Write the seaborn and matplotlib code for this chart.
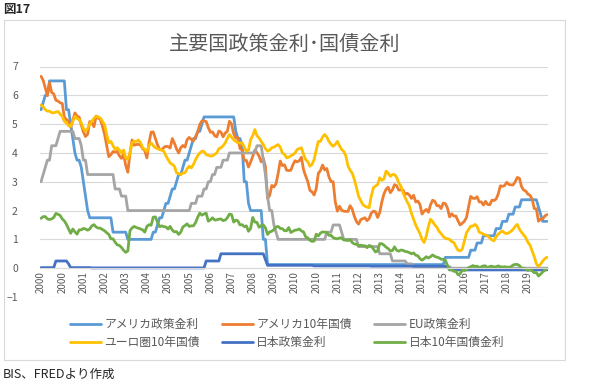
import numpy as np
import pandas as pd
import matplotlib
matplotlib.use('Agg')
import matplotlib.pyplot as plt
import seaborn as sns
from matplotlib.lines import Line2D
from matplotlib.patches import Rectangle

series_names = ['アメリカ政策金利', 'アメリカ10年国債', 'EU政策金利',
                'ユーロ圏10年国債', '日本政策金利', '日本10年国債金利']
series_colors = ['#5B9BD5', '#ED7D31', '#A5A5A5', '#FFC000', '#4472C4', '#70AD47']

# monthly, Jan 2000 - Dec 2019
months = pd.date_range('2000-01-01', periods=240, freq='MS')
tick_labels = ['2000', '2000', '2001', '2002', '2003', '2004', '2005', '2005',
               '2006', '2007', '2008', '2009', '2010', '2010', '2011', '2012',
               '2013', '2014', '2015', '2015', '2016', '2017', '2018', '2019']

us_policy = [
    5.50, 5.75, 6.00, 6.00, 6.50, 6.50, 6.50, 6.50, 6.50, 6.50, 6.50, 6.50,
    5.50, 5.50, 5.00, 4.50, 4.00, 3.75, 3.75, 3.50, 3.00, 2.50, 2.00, 1.75,
    1.75, 1.75, 1.75, 1.75, 1.75, 1.75, 1.75, 1.75, 1.75, 1.75, 1.25, 1.25,
    1.25, 1.25, 1.25, 1.25, 1.25, 1.00, 1.00, 1.00, 1.00, 1.00, 1.00, 1.00,
    1.00, 1.00, 1.00, 1.00, 1.00, 1.25, 1.25, 1.50, 1.75, 1.75, 2.00, 2.25,
    2.25, 2.50, 2.75, 2.75, 3.00, 3.25, 3.25, 3.50, 3.75, 3.75, 4.00, 4.25,
    4.50, 4.50, 4.75, 4.75, 5.00, 5.25, 5.25, 5.25, 5.25, 5.25, 5.25, 5.25,
    5.25, 5.25, 5.25, 5.25, 5.25, 5.25, 5.25, 5.25, 4.75, 4.50, 4.50, 4.25,
    3.00, 3.00, 2.25, 2.00, 2.00, 2.00, 2.00, 2.00, 2.00, 1.00, 1.00, 0.125,
    0.125, 0.125, 0.125, 0.125, 0.125, 0.125, 0.125, 0.125, 0.125, 0.125, 0.125, 0.125,
    0.125, 0.125, 0.125, 0.125, 0.125, 0.125, 0.125, 0.125, 0.125, 0.125, 0.125, 0.125,
    0.125, 0.125, 0.125, 0.125, 0.125, 0.125, 0.125, 0.125, 0.125, 0.125, 0.125, 0.125,
    0.125, 0.125, 0.125, 0.125, 0.125, 0.125, 0.125, 0.125, 0.125, 0.125, 0.125, 0.125,
    0.125, 0.125, 0.125, 0.125, 0.125, 0.125, 0.125, 0.125, 0.125, 0.125, 0.125, 0.125,
    0.125, 0.125, 0.125, 0.125, 0.125, 0.125, 0.125, 0.125, 0.125, 0.125, 0.125, 0.125,
    0.125, 0.125, 0.125, 0.125, 0.125, 0.125, 0.125, 0.125, 0.125, 0.125, 0.125, 0.375,
    0.375, 0.375, 0.375, 0.375, 0.375, 0.375, 0.375, 0.375, 0.375, 0.375, 0.375, 0.625,
    0.625, 0.625, 0.875, 0.875, 0.875, 1.125, 1.125, 1.125, 1.125, 1.125, 1.125, 1.375,
    1.375, 1.375, 1.625, 1.625, 1.625, 1.875, 1.875, 1.875, 2.125, 2.125, 2.125, 2.375,
    2.375, 2.375, 2.375, 2.375, 2.375, 2.375, 2.375, 2.125, 1.875, 1.625, 1.625, 1.625,
]

us_10y = [
    6.66, 6.52, 6.26, 5.99, 6.44, 6.10, 6.05, 5.83, 5.80, 5.74, 5.72, 5.24,
    5.16, 5.10, 4.89, 5.14, 5.39, 5.28, 5.24, 4.97, 4.73, 4.57, 4.65, 5.09,
    5.04, 4.91, 5.28, 5.21, 5.16, 4.93, 4.65, 4.26, 3.87, 3.94, 4.05, 4.03,
    4.05, 3.90, 3.81, 3.96, 3.57, 3.33, 3.98, 4.45, 4.27, 4.29, 4.30, 4.27,
    4.15, 4.08, 3.83, 4.35, 4.72, 4.73, 4.50, 4.28, 4.13, 4.10, 4.19, 4.23,
    4.22, 4.17, 4.50, 4.34, 4.14, 4.00, 4.18, 4.26, 4.20, 4.46, 4.54, 4.47,
    4.42, 4.57, 4.72, 4.99, 5.11, 5.11, 5.09, 4.88, 4.72, 4.73, 4.60, 4.56,
    4.76, 4.72, 4.56, 4.69, 4.75, 5.10, 5.00, 4.67, 4.52, 4.53, 4.15, 4.10,
    3.74, 3.74, 3.51, 3.68, 3.88, 4.10, 4.01, 3.89, 3.69, 3.81, 3.53, 2.42,
    2.52, 2.87, 2.82, 2.93, 3.29, 3.72, 3.56, 3.59, 3.40, 3.39, 3.40, 3.59,
    3.73, 3.69, 3.73, 3.85, 3.42, 3.20, 3.01, 2.70, 2.65, 2.54, 2.76, 3.29,
    3.39, 3.58, 3.41, 3.46, 3.17, 3.00, 3.00, 2.30, 1.98, 2.15, 2.01, 1.98,
    1.97, 1.97, 2.17, 2.05, 1.80, 1.62, 1.53, 1.68, 1.72, 1.75, 1.65, 1.72,
    1.91, 1.98, 1.96, 1.76, 1.93, 2.30, 2.58, 2.74, 2.81, 2.62, 2.72, 2.90,
    2.86, 2.71, 2.72, 2.71, 2.56, 2.60, 2.54, 2.42, 2.53, 2.30, 2.33, 2.21,
    1.88, 1.98, 2.04, 1.94, 2.20, 2.36, 2.32, 2.17, 2.17, 2.07, 2.26, 2.24,
    2.09, 1.78, 1.89, 1.81, 1.81, 1.64, 1.50, 1.56, 1.63, 1.76, 2.14, 2.49,
    2.43, 2.42, 2.48, 2.30, 2.30, 2.19, 2.32, 2.21, 2.20, 2.36, 2.35, 2.40,
    2.58, 2.86, 2.84, 2.87, 2.98, 2.91, 2.89, 2.89, 3.00, 3.15, 3.12, 2.83,
    2.71, 2.68, 2.57, 2.53, 2.40, 2.07, 2.06, 1.63, 1.70, 1.71, 1.81, 1.86,
]

eu_policy = [
    3.00, 3.25, 3.50, 3.75, 3.75, 4.25, 4.25, 4.25, 4.50, 4.75, 4.75, 4.75,
    4.75, 4.75, 4.75, 4.75, 4.50, 4.50, 4.50, 4.25, 3.75, 3.75, 3.25, 3.25,
    3.25, 3.25, 3.25, 3.25, 3.25, 3.25, 3.25, 3.25, 3.25, 3.25, 3.25, 2.75,
    2.75, 2.75, 2.50, 2.50, 2.50, 2.00, 2.00, 2.00, 2.00, 2.00, 2.00, 2.00,
    2.00, 2.00, 2.00, 2.00, 2.00, 2.00, 2.00, 2.00, 2.00, 2.00, 2.00, 2.00,
    2.00, 2.00, 2.00, 2.00, 2.00, 2.00, 2.00, 2.00, 2.00, 2.00, 2.00, 2.25,
    2.25, 2.25, 2.50, 2.50, 2.50, 2.75, 2.75, 3.00, 3.00, 3.25, 3.25, 3.50,
    3.50, 3.50, 3.75, 3.75, 3.75, 4.00, 4.00, 4.00, 4.00, 4.00, 4.00, 4.00,
    4.00, 4.00, 4.00, 4.00, 4.00, 4.00, 4.25, 4.25, 4.25, 3.75, 3.25, 2.50,
    2.00, 2.00, 1.50, 1.25, 1.00, 1.00, 1.00, 1.00, 1.00, 1.00, 1.00, 1.00,
    1.00, 1.00, 1.00, 1.00, 1.00, 1.00, 1.00, 1.00, 1.00, 1.00, 1.00, 1.00,
    1.00, 1.00, 1.00, 1.25, 1.25, 1.25, 1.50, 1.50, 1.50, 1.50, 1.25, 1.00,
    1.00, 1.00, 1.00, 1.00, 1.00, 1.00, 0.75, 0.75, 0.75, 0.75, 0.75, 0.75,
    0.75, 0.75, 0.75, 0.75, 0.50, 0.50, 0.50, 0.50, 0.50, 0.50, 0.25, 0.25,
    0.25, 0.25, 0.25, 0.25, 0.25, 0.15, 0.15, 0.15, 0.05, 0.05, 0.05, 0.05,
    0.05, 0.05, 0.05, 0.05, 0.05, 0.05, 0.05, 0.05, 0.05, 0.05, 0.05, 0.05,
    0.05, 0.05, 0.00, 0.00, 0.00, 0.00, 0.00, 0.00, 0.00, 0.00, 0.00, 0.00,
    0.00, 0.00, 0.00, 0.00, 0.00, 0.00, 0.00, 0.00, 0.00, 0.00, 0.00, 0.00,
    0.00, 0.00, 0.00, 0.00, 0.00, 0.00, 0.00, 0.00, 0.00, 0.00, 0.00, 0.00,
    0.00, 0.00, 0.00, 0.00, 0.00, 0.00, 0.00, 0.00, 0.00, 0.00, 0.00, 0.00,
]

euro_10y = [
    5.67, 5.60, 5.50, 5.45, 5.45, 5.40, 5.39, 5.42, 5.44, 5.35, 5.27, 5.10,
    5.04, 4.95, 4.92, 5.10, 5.27, 5.20, 5.15, 5.04, 4.85, 4.75, 4.85, 5.00,
    5.10, 5.20, 5.27, 5.25, 5.21, 5.10, 4.98, 4.64, 4.35, 4.40, 4.25, 4.12,
    4.18, 4.10, 4.00, 4.10, 3.83, 3.77, 4.00, 4.35, 4.40, 4.40, 4.45, 4.35,
    4.18, 4.12, 4.05, 4.25, 4.35, 4.25, 4.18, 4.15, 4.12, 4.10, 4.06, 3.90,
    3.77, 3.65, 3.60, 3.54, 3.31, 3.28, 3.25, 3.30, 3.31, 3.45, 3.54, 3.48,
    3.60, 3.77, 3.90, 4.00, 4.06, 4.05, 3.94, 3.92, 3.89, 3.90, 3.95, 4.00,
    4.15, 4.18, 4.25, 4.35, 4.50, 4.64, 4.55, 4.46, 4.40, 4.35, 4.35, 4.35,
    4.20, 4.06, 4.10, 4.46, 4.60, 4.81, 4.60, 4.52, 4.40, 4.29, 4.15, 4.06,
    4.10, 4.18, 4.20, 4.25, 4.29, 4.20, 4.00, 3.95, 3.83, 3.85, 3.90, 3.94,
    4.00, 4.12, 4.15, 4.18, 3.95, 3.77, 3.70, 3.54, 3.60, 3.77, 4.10, 4.40,
    4.40, 4.55, 4.64, 4.55, 4.40, 4.30, 4.23, 4.30, 4.40, 4.25, 4.12, 4.05,
    3.90, 3.55, 3.40, 3.30, 3.08, 2.80, 2.50, 2.35, 2.21, 2.15, 2.12, 2.10,
    2.50, 2.79, 2.85, 2.90, 3.14, 3.05, 3.10, 3.37, 3.30, 3.19, 3.25, 3.25,
    3.15, 2.96, 2.85, 2.62, 2.45, 2.30, 2.16, 1.90, 1.70, 1.50, 1.35, 1.20,
    1.00, 0.89, 1.12, 1.45, 1.70, 1.62, 1.50, 1.42, 1.28, 1.20, 1.10, 1.04,
    1.02, 1.00, 0.92, 0.89, 0.75, 0.62, 0.60, 0.66, 0.95, 1.23, 1.35, 1.46,
    1.46, 1.52, 1.45, 1.25, 1.22, 1.18, 1.15, 1.12, 1.05, 0.98, 0.95, 1.10,
    1.18, 1.25, 1.29, 1.22, 1.20, 1.23, 1.28, 1.35, 1.45, 1.52, 1.35, 1.25,
    1.15, 1.06, 0.90, 0.80, 0.60, 0.40, 0.15, 0.06, 0.14, 0.25, 0.33, 0.38,
]

jp_policy = [
    0.02, 0.02, 0.02, 0.02, 0.02, 0.02, 0.02, 0.25, 0.25, 0.25, 0.25, 0.25,
    0.25, 0.15, 0.02, 0.02, 0.02, 0.02, 0.02, 0.02, 0.02, 0.02, 0.02, 0.02,
    0.01, 0.01, 0.01, 0.01, 0.01, 0.01, 0.01, 0.01, 0.01, 0.01, 0.01, 0.01,
    0.01, 0.01, 0.01, 0.01, 0.01, 0.01, 0.01, 0.01, 0.01, 0.01, 0.01, 0.01,
    0.01, 0.01, 0.01, 0.01, 0.01, 0.01, 0.01, 0.01, 0.01, 0.01, 0.01, 0.01,
    0.01, 0.01, 0.01, 0.01, 0.01, 0.01, 0.01, 0.01, 0.01, 0.01, 0.01, 0.01,
    0.01, 0.01, 0.01, 0.01, 0.01, 0.01, 0.25, 0.25, 0.25, 0.25, 0.25, 0.25,
    0.25, 0.50, 0.50, 0.50, 0.50, 0.50, 0.50, 0.50, 0.50, 0.50, 0.50, 0.50,
    0.50, 0.50, 0.50, 0.50, 0.50, 0.50, 0.50, 0.50, 0.50, 0.50, 0.30, 0.10,
    0.10, 0.10, 0.10, 0.10, 0.10, 0.10, 0.10, 0.10, 0.10, 0.10, 0.10, 0.10,
    0.10, 0.10, 0.10, 0.10, 0.10, 0.10, 0.10, 0.10, 0.10, 0.08, 0.08, 0.08,
    0.08, 0.08, 0.08, 0.08, 0.08, 0.08, 0.08, 0.08, 0.08, 0.08, 0.08, 0.08,
    0.08, 0.08, 0.08, 0.08, 0.08, 0.08, 0.08, 0.08, 0.08, 0.08, 0.08, 0.08,
    0.07, 0.07, 0.07, 0.07, 0.07, 0.07, 0.07, 0.07, 0.07, 0.07, 0.07, 0.07,
    0.07, 0.07, 0.07, 0.07, 0.07, 0.07, 0.07, 0.07, 0.07, 0.07, 0.07, 0.07,
    0.07, 0.07, 0.07, 0.07, 0.07, 0.07, 0.07, 0.07, 0.07, 0.07, 0.07, 0.07,
    0.04, -0.05, -0.06, -0.06, -0.06, -0.06, -0.06, -0.06, -0.06, -0.06, -0.06, -0.06,
    -0.06, -0.06, -0.06, -0.06, -0.06, -0.06, -0.06, -0.06, -0.06, -0.06, -0.06, -0.06,
    -0.06, -0.06, -0.06, -0.06, -0.06, -0.06, -0.06, -0.06, -0.06, -0.06, -0.06, -0.06,
    -0.06, -0.06, -0.06, -0.06, -0.06, -0.06, -0.06, -0.06, -0.06, -0.06, -0.06, -0.06,
]

jp_10y = [
    1.73, 1.79, 1.79, 1.71, 1.69, 1.71, 1.76, 1.90, 1.87, 1.83, 1.71, 1.64,
    1.52, 1.36, 1.21, 1.36, 1.26, 1.18, 1.33, 1.33, 1.38, 1.36, 1.32, 1.36,
    1.47, 1.51, 1.43, 1.39, 1.39, 1.34, 1.30, 1.23, 1.17, 1.02, 1.02, 0.90,
    0.81, 0.79, 0.72, 0.62, 0.55, 0.60, 1.30, 1.40, 1.45, 1.41, 1.39, 1.36,
    1.33, 1.25, 1.45, 1.51, 1.49, 1.77, 1.78, 1.60, 1.44, 1.47, 1.44, 1.43,
    1.36, 1.45, 1.32, 1.26, 1.27, 1.17, 1.25, 1.43, 1.48, 1.54, 1.45, 1.47,
    1.47, 1.58, 1.77, 1.91, 1.84, 1.88, 1.91, 1.63, 1.68, 1.75, 1.67, 1.68,
    1.70, 1.71, 1.65, 1.67, 1.75, 1.88, 1.86, 1.60, 1.67, 1.64, 1.50, 1.51,
    1.44, 1.47, 1.28, 1.38, 1.76, 1.60, 1.59, 1.42, 1.48, 1.50, 1.40, 1.17,
    1.26, 1.28, 1.34, 1.43, 1.45, 1.38, 1.37, 1.30, 1.30, 1.41, 1.24, 1.28,
    1.32, 1.33, 1.36, 1.29, 1.26, 1.09, 1.05, 0.97, 0.93, 0.94, 1.18, 1.12,
    1.22, 1.26, 1.25, 1.24, 1.14, 1.14, 1.06, 1.03, 1.02, 1.05, 1.05, 0.98,
    0.97, 0.96, 0.99, 0.89, 0.84, 0.83, 0.78, 0.80, 0.78, 0.78, 0.71, 0.79,
    0.76, 0.67, 0.56, 0.60, 0.85, 0.85, 0.80, 0.73, 0.68, 0.60, 0.61, 0.74,
    0.62, 0.59, 0.63, 0.62, 0.58, 0.57, 0.54, 0.50, 0.53, 0.45, 0.43, 0.33,
    0.28, 0.33, 0.40, 0.35, 0.40, 0.46, 0.41, 0.38, 0.36, 0.31, 0.31, 0.27,
    0.10, -0.06, -0.05, -0.11, -0.11, -0.23, -0.19, -0.07, -0.08, -0.05, 0.02, 0.05,
    0.09, 0.06, 0.07, 0.02, 0.05, 0.08, 0.08, 0.01, 0.06, 0.07, 0.04, 0.05,
    0.08, 0.05, 0.04, 0.05, 0.04, 0.03, 0.05, 0.11, 0.13, 0.13, 0.09, 0.00,
    0.00, -0.03, -0.08, -0.05, -0.09, -0.16, -0.15, -0.27, -0.21, -0.13, -0.07, -0.02,
]

wide = pd.DataFrame({
    'idx': np.arange(len(months)),
    series_names[0]: us_policy,
    series_names[1]: us_10y,
    series_names[2]: eu_policy,
    series_names[3]: euro_10y,
    series_names[4]: jp_policy,
    series_names[5]: jp_10y,
})
df = wide.melt(id_vars='idx', var_name='series', value_name='rate')

sns.set_style('white')
plt.rcParams['font.family'] = ['Noto Sans CJK JP', 'DejaVu Sans']

W, H = 606, 384
fig = plt.figure(figsize=(W / 100, H / 100), dpi=100)
ax = fig.add_axes([40 / W, 1 - 297 / H, 508 / W, (297 - 66.5) / H])

sns.lineplot(data=df, x='idx', y='rate', hue='series', hue_order=series_names,
             palette=series_colors, linewidth=2.0, estimator=None, legend=False,
             ax=ax)

ax.set_xlim(-0.5, len(months) - 0.5)
ax.set_ylim(-1, 7)
ax.set_yticks(range(-1, 8))
ax.set_xticks(range(0, len(months), 10))
ax.set_xticklabels(tick_labels)
ax.set_xlabel('')
ax.set_ylabel('')
ax.grid(axis='y', color='#D9D9D9', linewidth=0.8)
ax.set_axisbelow(True)
for side in ['left', 'right', 'top']:
    ax.spines[side].set_visible(False)
ax.spines['bottom'].set_position(('data', 0))
ax.spines['bottom'].set_color('#D9D9D9')
ax.tick_params(axis='x', length=0, pad=2, labelsize=7, labelcolor='#595959',
               labelrotation=90)
ax.tick_params(axis='y', length=0, pad=16, labelsize=7.5, labelcolor='#595959')

# legend: 2 rows x 3 columns, filled row-wise
order = [0, 3, 1, 4, 2, 5]
handles = [Line2D([], [], color=series_colors[i], linewidth=2.0) for i in order]
labels = [series_names[i] for i in order]
fig.legend(handles, labels, ncol=3, loc='center', bbox_to_anchor=(287 / W, 1 - 333.5 / H),
           frameon=False, fontsize=8.5, handlelength=2.6, handletextpad=0.3,
           columnspacing=1.9, labelspacing=0.45, labelcolor='#595959')

fig.text(285 / W, 1 - 45 / H, '主要国政策金利･国債金利', ha='center', va='center',
         fontsize=14.5, color='#595959')
fig.text(3 / W, 1 - 10 / H, '図17', ha='left', va='center', fontsize=9, fontweight='bold')
fig.text(3 / W, 1 - 374 / H, 'BIS、FREDより作成', ha='left', va='center', fontsize=9)

fig.add_artist(Rectangle((4 / W, 1 - 360 / H), 561 / W, 340 / H, transform=fig.transFigure,
                         fill=False, edgecolor='#D9D9D9', linewidth=0.8))

fig.savefig('out.png', dpi=100)
plt.close(fig)
